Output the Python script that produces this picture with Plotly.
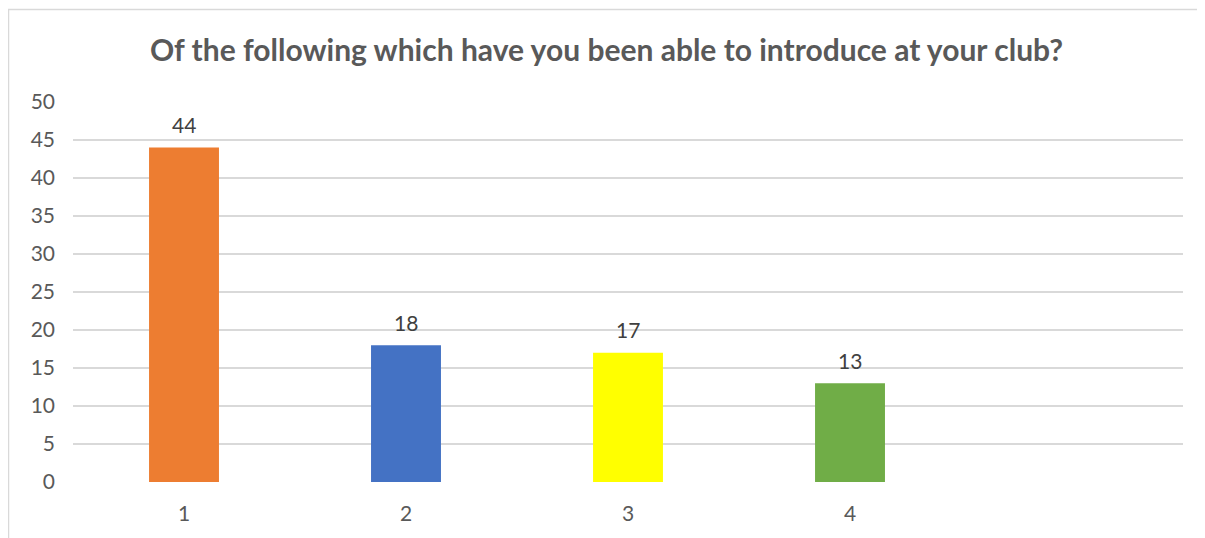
import plotly.graph_objects as go

categories = ["1", "2", "3", "4", " "]
values = [44, 18, 17, 13, None]
colors = ["#ED7D31", "#4472C4", "#FFFF00", "#70AD47", "#FFFFFF"]
labels = ["44", "18", "17", "13", ""]
title = "Of the following which have you been able to introduce at your club?"

# page body adds an 8px offset
W, H = 1197, 530
L, R, T, B = 65, 22, 94, 56

fig = go.Figure(go.Bar(
    x=categories, y=values, marker=dict(color=colors, line=dict(width=0)),
    hoverinfo="x+y",
))

for i, (v, t) in enumerate(zip(values, labels)):
    if v is None:
        continue
    # category axes place annotations by category index
    fig.add_annotation(x=i, y=v, text=t, showarrow=False, yanchor="middle",
                       yshift=23, font=dict(family="Lato", size=21, color="#404040"))

fig.update_layout(
    width=W, height=H,
    margin=dict(l=L, r=R, t=T, b=B),
    paper_bgcolor="white", plot_bgcolor="white",
    bargap=0.685,
    showlegend=False,
    title=dict(text="<b>" + title + "</b>", x=0.5, xanchor="center",
               y=1 - 42 / H, yanchor="middle",
               font=dict(family="Lato", size=30, color="#595959")),
    font=dict(family="Lato", size=21, color="#595959"),
    xaxis=dict(type="category", showgrid=False, zeroline=False,
               showline=False, ticks="", ticklabelstandoff=17,
               tickfont=dict(size=21, color="#595959")),
    yaxis=dict(range=[0, 50], dtick=5, showgrid=True, gridcolor="#D9D9D9",
               gridwidth=1.5, zeroline=False, showline=False, ticks="",
               ticklabelstandoff=17,
               tickfont=dict(size=21, color="#595959")),
    shapes=[dict(type="rect", xref="paper", yref="paper",
                 x0=(0.5 - L) / (W - L - R), x1=(W + 20 - L) / (W - L - R),
                 y0=-(B + 20) / (H - T - B), y1=1 + (T - 1.5) / (H - T - B),
                 line=dict(color="#D9D9D9", width=1.5), fillcolor="rgba(0,0,0,0)",
                 layer="below")],
)

fig.write_html("out.html")
